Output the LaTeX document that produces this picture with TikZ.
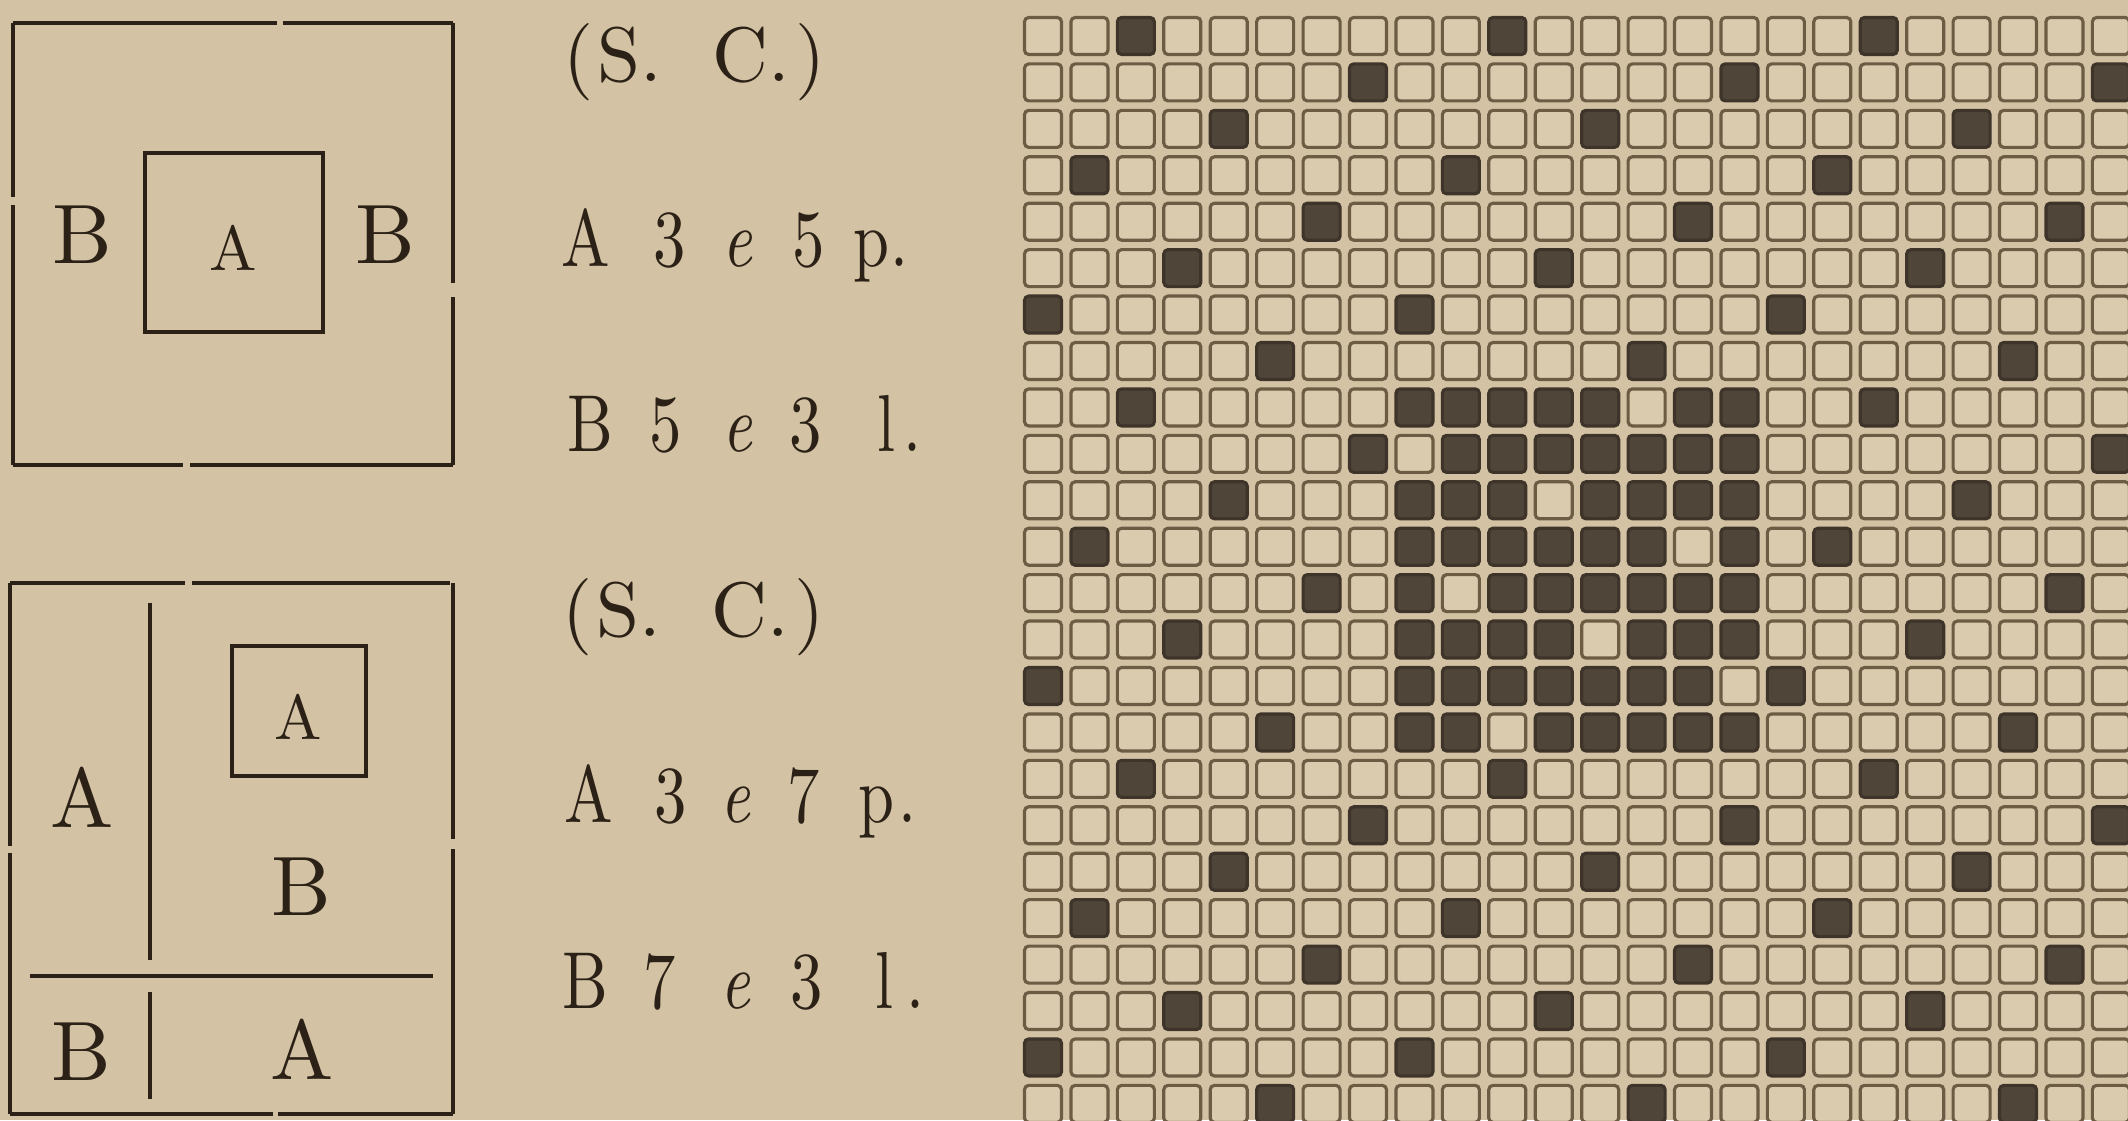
\documentclass[tikz,border=0pt]{standalone}
\usepackage{fontspec}
\setmainfont{lmroman10-regular}[Extension=.otf, ItalicFont=lmroman10-italic]
\usepackage{graphicx}
\usepackage{tikz}

\definecolor{paper}{RGB}{211,195,164}
\definecolor{ink}{RGB}{44,33,22}
\definecolor{cellfill}{RGB}{218,203,174}
\definecolor{cellline}{RGB}{108,92,68}
\definecolor{darkfill}{RGB}{80,69,57}
\definecolor{darkline}{RGB}{62,52,42}

\begin{document}
\begin{tikzpicture}[
    frame/.style={draw=ink, line width=1.2pt},
    cell/.style={draw=cellline, fill=cellfill, line width=0.9pt, rounded corners=1.2pt},
    darkcell/.style={draw=darkline, fill=darkfill, line width=0.9pt, rounded corners=1.2pt},
    big/.style={inner sep=0pt, text=ink, font=\fontsize{24}{24}\selectfont},
    small/.style={inner sep=0pt, text=ink, font=\fontsize{18}{18}\selectfont},
    sc/.style={inner sep=0pt, anchor=base west, text=ink, font=\fontsize{22}{22}\selectfont},
    spec/.style={inner sep=0pt, anchor=base west, text=ink, font=\fontsize{23}{23}\selectfont}
  ]

  % Paper
  \fill[paper] (0,0) rectangle (21.28,11.2);
  \useasboundingbox (0,0) rectangle (21.28,11.2);

  % First plan: A in the middle of B
  \draw[frame] (0.13,10.97) -- (2.77,10.97);
  \draw[frame] (2.83,10.97) -- (4.53,10.97);
  \draw[frame] (0.13,10.97) -- (0.13,9.23);
  \draw[frame] (0.13,9.15) -- (0.13,6.55);
  \draw[frame] (4.53,10.97) -- (4.53,8.37);
  \draw[frame] (4.53,8.23) -- (4.53,6.55);
  \draw[frame] (0.13,6.55) -- (1.83,6.55);
  \draw[frame] (1.90,6.55) -- (4.53,6.55);
  \draw[frame] (1.45,9.67) rectangle (3.23,7.88);
  \node[big] (b_left) at (0.82,8.85) {B};
  \node[small] (a_mid) at (2.33,8.72) {A};
  \node[big] (b_right) at (3.85,8.85) {B};

  % Second plan: quarters
  \draw[frame] (0.10,5.37) -- (1.85,5.37);
  \draw[frame] (1.92,5.37) -- (4.50,5.37);
  \draw[frame] (0.10,5.37) -- (0.10,2.74);
  \draw[frame] (0.10,2.67) -- (0.10,0.06);
  \draw[frame] (4.53,5.37) -- (4.53,2.81);
  \draw[frame] (4.53,2.71) -- (4.53,0.06);
  \draw[frame] (0.10,0.06) -- (2.73,0.06);
  \draw[frame] (2.78,0.06) -- (4.53,0.06);
  \draw[frame] (1.50,5.17) -- (1.50,1.60);
  \draw[frame] (1.50,1.28) -- (1.50,0.21);
  \draw[frame] (0.30,1.44) -- (4.33,1.44);
  \draw[frame] (2.32,4.74) rectangle (3.66,3.44);
  \node[big] (a_side) at (0.82,3.23) {A};
  \node[small] (a_box) at (2.98,4.03) {A};
  \node[big] (b_top) at (3.01,2.33) {B};
  \node[big] (b_low) at (0.81,0.68) {B};
  \node[big] (a_low) at (3.02,0.71) {A};

  % Specifications
  \node[sc] (sc_one) at (5.63,10.38) {(\hspace{0.04cm}S.\hspace{0.5cm}C.\hspace{0.06cm})};
  \node[spec] (a_one) at (5.61,8.53)
    {\scalebox{0.8}[1]{A\hspace{0.54cm}3\hspace{0.46cm}\textit{e}\hspace{0.49cm}5\hspace{0.36cm}p\hspace{0.02cm}.}};
  \node[spec] (b_one) at (5.67,6.68)
    {\scalebox{0.8}[1]{B\hspace{0.45cm}5\hspace{0.51cm}\textit{e}\hspace{0.46cm}3\hspace{0.69cm}l\hspace{0.11cm}.}};
  \node[sc] (sc_two) at (5.62,4.83) {(\hspace{0.04cm}S.\hspace{0.5cm}C.\hspace{0.06cm})};
  \node[spec] (a_two) at (5.64,2.97)
    {\scalebox{0.8}[1]{A\hspace{0.52cm}3\hspace{0.42cm}\textit{e}\hspace{0.45cm}7\hspace{0.49cm}p\hspace{0.05cm}.}};
  \node[spec] (b_two) at (5.62,1.12)
    {\scalebox{0.8}[1]{B\hspace{0.44cm}7\hspace{0.56cm}\textit{e}\hspace{0.49cm}3\hspace{0.66cm}l\hspace{0.16cm}.}};

  % Point paper: satin ground, reversed satin in the middle block
  \begin{scope}
    \clip (0,0) rectangle (21.28,11.2);
    \foreach \row in {0,...,23}{
      \foreach \col in {0,...,23}{
        \pgfmathtruncatemacro{\inA}{(\row>7)&&(\row<16)&&(\col>7)&&(\col<16)}
        \pgfmathtruncatemacro{\sat}{mod(\col+3*\row+6,8)==0}
        \pgfmathtruncatemacro{\rev}{mod(\col+5*\row+3,8)!=0}
        \ifnum\inA=1 \let\dark\rev \else \let\dark\sat \fi
        \ifnum\dark=1 \def\cellstyle{darkcell}\else \def\cellstyle{cell}\fi
        \path[\cellstyle] ({10.245+0.4643*\col},{10.655-0.4643*\row}) rectangle +(0.37,0.37);
      }
    }
  \end{scope}

\end{tikzpicture}
\end{document}
